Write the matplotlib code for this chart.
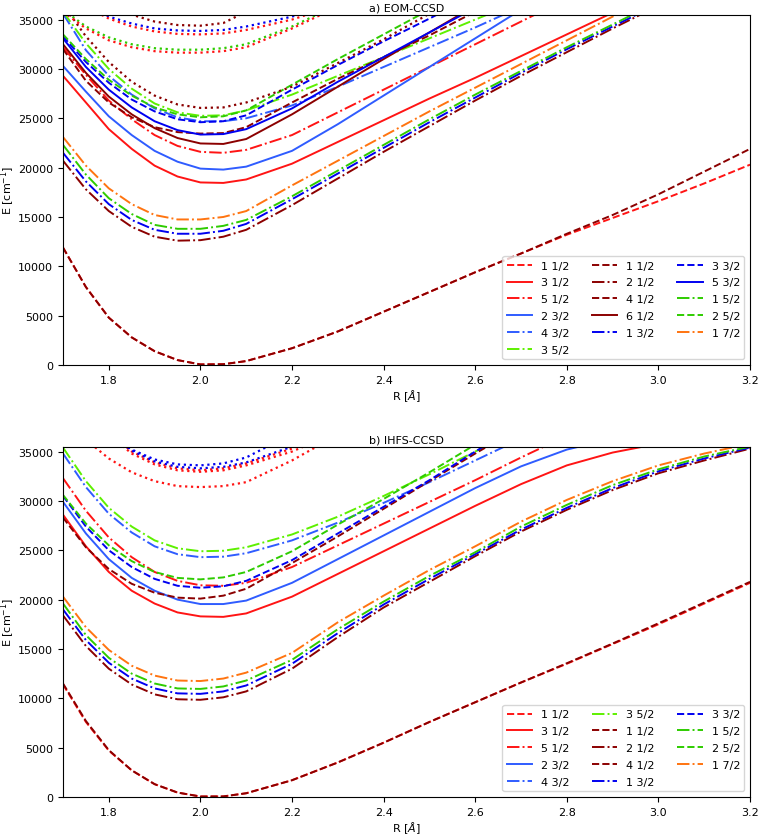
import numpy as np
import matplotlib
matplotlib.use("Agg")
import matplotlib.pyplot as plt

N = None
R = [1.70, 1.75, 1.80, 1.85, 1.90, 1.95, 2.00, 2.05, 2.10, 2.20,
     2.30, 2.40, 2.50, 2.60, 2.70, 2.80, 2.90, 3.00, 3.10, 3.20]

# ---------------- panel a) EOM-CCSD ----------------
a_11_red  = [11900, 7900, 4800, 2800, 1400, 500, 60, 80, 400, 1700, 3400, 5400, 7400, 9400, 11300, 13200, 14900, 16600, 18400, 20300]
a_31_red  = [29300, 26600, 23900, 21900, 20200, 19100, 18500, 18450, 18800, 20400, 22600, 24800, 27000, 29100, 31300, 33500, 35700, 37000, N, N]
a_51_red  = [32200, 29400, 26800, 24900, 23300, 22200, 21600, 21500, 21800, 23300, 25600, 27900, 30200, 32500, 34800, 37100, N, N, N, N]
a_23_rb   = [30300, 27700, 25200, 23300, 21700, 20600, 19900, 19800, 20100, 21700, 24400, 27300, 30200, 33100, 36000, N, N, N, N, N]
a_43_rb   = [35600, 31900, 29300, 27400, 26000, 25100, 24700, 24700, 25000, 26300, 28200, 30200, 32200, 34200, 36300, N, N, N, N, N]
a_35_lime = [35800, 32600, 30000, 28000, 26500, 25600, 25250, 25300, 25800, 27400, 29300, 31200, 33100, 35000, 36900, N, N, N, N, N]
a_11_dr   = [11900, 7900, 4800, 2800, 1400, 500, 60, 80, 400, 1700, 3400, 5400, 7400, 9400, 11300, 13300, 15200, 17300, 19600, 21900]
a_21_dr   = [20700, 17800, 15600, 14000, 13000, 12600, 12650, 13000, 13700, 16200, 18900, 21600, 24200, 26800, 29300, 31700, 34100, 36400, N, N]
a_41_dr   = [32000, 28800, 26600, 25100, 24100, 23600, 23450, 23500, 24100, 26600, 29000, 31200, 33400, 35800, N, N, N, N, N, N]
a_61_dr   = [32500, 29600, 27200, 25400, 24000, 23000, 22450, 22400, 22900, 25400, 28200, 31000, 33700, 36400, N, N, N, N, N, N]
a_13_b    = [21500, 18600, 16300, 14700, 13700, 13300, 13300, 13600, 14300, 16800, 19400, 22000, 24600, 27100, 29600, 32000, 34300, 36600, N, N]
a_33_b    = [33300, 30700, 28600, 26900, 25700, 24900, 24600, 24700, 25300, 27900, 30400, 32800, 35100, 37500, N, N, N, N, N, N]
a_53_b    = [33100, 30200, 27900, 26100, 24700, 23800, 23350, 23400, 23900, 26000, 28700, 31200, 33700, 36200, N, N, N, N, N, N]
a_15_g    = [22300, 19300, 16900, 15300, 14200, 13800, 13800, 14100, 14700, 17100, 19700, 22300, 24900, 27400, 29800, 32200, 34500, 36800, N, N]
a_25_g    = [33500, 31000, 28900, 27300, 26100, 25400, 25100, 25200, 25800, 28400, 31000, 33500, 36000, N, N, N, N, N, N, N]
a_17_o    = [23100, 20200, 17900, 16300, 15200, 14750, 14750, 15000, 15600, 18200, 20700, 23200, 25700, 28100, 30500, 32900, 35300, 37600, N, N]
# unlabelled dotted states (a)
a_dot_dr_low = [36500, 33300, 30700, 28700, 27300, 26400, 26050, 26100, 26600, 28200, 30600, 33000, 35600, N, N, N, N, N, N, N]
a_dot_g_low  = [36000, 34300, 33200, 32500, 32100, 31950, 31950, 32100, 32500, 34300, 36500, N, N, N, N, N, N, N, N, N]
a_dot_r_low  = [35800, 34100, 32900, 32200, 31800, 31650, 31650, 31800, 32200, 34100, 36300, N, N, N, N, N, N, N, N, N]
a_dot_b_up   = [N, 36500, 35300, 34600, 34100, 33900, 33850, 33950, 34300, 35300, 36800, N, N, N, N, N, N, N, N, N]
a_dot_r_up   = [N, 36300, 35100, 34300, 33800, 33550, 33500, 33600, 33950, 35000, 36500, N, N, N, N, N, N, N, N, N]
a_dot_dr_up  = [N, N, 36500, 35500, 34800, 34450, 34380, 34650, 35800, N, N, N, N, N, N, N, N, N, N, N]

# ---------------- panel b) IHFS-CCSD ----------------
b_11_red  = [11400, 7600, 4700, 2700, 1300, 450, 50, 60, 380, 1700, 3500, 5500, 7600, 9600, 11600, 13500, 15500, 17500, 19600, 21700]
b_31_red  = [28600, 25400, 22800, 20900, 19600, 18700, 18300, 18250, 18600, 20300, 22600, 24900, 27200, 29500, 31700, 33600, 34900, 35800, N, N]
b_51_red  = [32300, 29000, 26300, 24300, 22800, 21900, 21450, 21400, 21700, 23300, 25500, 27700, 29900, 32100, 34400, 36600, N, N, N, N]
b_23_rb   = [29900, 26700, 24100, 22200, 20900, 20000, 19550, 19550, 19900, 21700, 24100, 26500, 28900, 31300, 33500, 35200, 36300, N, N, N]
b_43_rb   = [34800, 31400, 28700, 26800, 25400, 24600, 24300, 24350, 24700, 26000, 27800, 29800, 31900, 34100, 36300, N, N, N, N, N]
b_35_lime = [35400, 32000, 29300, 27400, 26000, 25200, 24900, 24950, 25300, 26600, 28400, 30500, 32700, 35000, 37300, N, N, N, N, N]
b_11_dr   = [11500, 7700, 4750, 2700, 1300, 450, 50, 60, 380, 1700, 3500, 5500, 7600, 9600, 11600, 13550, 15550, 17600, 19700, 21800]
b_21_dr   = [18400, 15300, 13000, 11400, 10400, 9900, 9850, 10100, 10700, 13000, 16200, 19200, 21800, 24400, 26900, 29100, 31100, 32800, 34100, 35300]
b_41_dr   = [28300, 25300, 23100, 21600, 20700, 20200, 20100, 20400, 21100, 23700, 26400, 29200, 32000, 34800, 37500, N, N, N, N, N]
b_13_b    = [19000, 15900, 13600, 12000, 11000, 10500, 10450, 10700, 11300, 13500, 16600, 19500, 22100, 24600, 27100, 29300, 31300, 33000, 34300, 35400]
b_33_b    = [30500, 27400, 25000, 23300, 22100, 21400, 21200, 21350, 21900, 24000, 26700, 29400, 32100, 35000, 37800, N, N, N, N, N]
b_15_g    = [19600, 16400, 14100, 12500, 11500, 11000, 10950, 11200, 11800, 13900, 17000, 19800, 22400, 24800, 27400, 29600, 31600, 33200, 34500, 35500]
b_25_g    = [30600, 27700, 25500, 23900, 22800, 22200, 22050, 22250, 22800, 24900, 27600, 30200, 32900, 35700, N, N, N, N, N, N]
b_17_o    = [20300, 17200, 14900, 13300, 12300, 11800, 11750, 12000, 12600, 14600, 17700, 20400, 23000, 25400, 27900, 30100, 32000, 33600, 34800, 35800]
# unlabelled dotted states (b)
b_dot_r_low = [N, 36200, 34300, 32900, 32000, 31500, 31400, 31500, 31900, 34100, 36700, N, N, N, N, N, N, N, N, N]
b_dot_b_a   = [N, N, 36800, 35200, 34200, 33700, 33600, 33800, 34400, 36800, N, N, N, N, N, N, N, N, N, N]
b_dot_r_a   = [N, N, 37000, 35000, 33900, 33300, 33100, 33300, 33800, 35300, 37500, N, N, N, N, N, N, N, N, N]
b_dot_b_b   = [N, N, 36900, 35100, 34000, 33450, 33300, 33450, 33900, 35500, 37600, N, N, N, N, N, N, N, N, N]
b_dot_r_b   = [N, N, 36700, 34800, 33700, 33100, 32950, 33100, 33600, 35000, 37000, N, N, N, N, N, N, N, N, N]

RED, DRED, RB, BLUE, LIME, GREEN, ORANGE = '#ff1414', '#8b0000', '#2f5cff', '#0000f0', '#5ef000', '#2ecc00', '#ff7410'

series_a = [
    ('1 1/2', RED, '--', a_11_red), ('3 1/2', RED, '-', a_31_red), ('5 1/2', RED, '-.', a_51_red),
    ('2 3/2', RB, '-', a_23_rb), ('4 3/2', RB, '-.', a_43_rb), ('3 5/2', LIME, '-.', a_35_lime),
    ('1 1/2', DRED, '--', a_11_dr), ('2 1/2', DRED, '-.', a_21_dr), ('4 1/2', DRED, '--', a_41_dr),
    ('6 1/2', DRED, '-', a_61_dr), ('1 3/2', BLUE, '-.', a_13_b), ('3 3/2', BLUE, '--', a_33_b),
    ('5 3/2', BLUE, '-', a_53_b), ('1 5/2', GREEN, '-.', a_15_g), ('2 5/2', GREEN, '--', a_25_g),
    ('1 7/2', ORANGE, '-.', a_17_o),
]
dots_a = [(DRED, a_dot_dr_low), (GREEN, a_dot_g_low), (RED, a_dot_r_low),
          (BLUE, a_dot_b_up), (RED, a_dot_r_up), (DRED, a_dot_dr_up)]

series_b = [
    ('1 1/2', RED, '--', b_11_red), ('3 1/2', RED, '-', b_31_red), ('5 1/2', RED, '-.', b_51_red),
    ('2 3/2', RB, '-', b_23_rb), ('4 3/2', RB, '-.', b_43_rb), ('3 5/2', LIME, '-.', b_35_lime),
    ('1 1/2', DRED, '--', b_11_dr), ('2 1/2', DRED, '-.', b_21_dr), ('4 1/2', DRED, '--', b_41_dr),
    ('1 3/2', BLUE, '-.', b_13_b), ('3 3/2', BLUE, '--', b_33_b), ('1 5/2', GREEN, '-.', b_15_g),
    ('2 5/2', GREEN, '--', b_25_g), ('1 7/2', ORANGE, '-.', b_17_o),
]
dots_b = [(RED, b_dot_r_low), (BLUE, b_dot_b_a), (RED, b_dot_r_a), (BLUE, b_dot_b_b), (RED, b_dot_r_b)]

plt.rcParams['font.family'] = ['DejaVu Sans']
plt.rcParams['font.size'] = 8

fig = plt.figure(figsize=(7.61, 8.37), dpi=100)
ax_a = fig.add_axes([0.0828, 0.5627, 0.9028, 0.4186])
ax_b = fig.add_axes([0.0828, 0.0466, 0.9028, 0.4186])

def arr(v):
    return np.array([np.nan if x is None else x for x in v], dtype=float)

def draw(ax, series, dots, title):
    for lab, col, ls, vals in series:
        ax.plot(R, arr(vals), color=col, ls=ls, lw=1.4, label=lab)
    for col, vals in dots:
        ax.plot(R, arr(vals), color=col, ls=':', lw=1.6)
    ax.set_xlim(1.7, 3.2)
    ax.set_ylim(0, 35500)
    ax.set_xticks([1.8, 2.0, 2.2, 2.4, 2.6, 2.8, 3.0, 3.2])
    ax.set_yticks(np.arange(0, 35001, 5000))
    ax.set_xlabel(r'R [$\AA$]', fontsize=8, labelpad=2)
    ax.set_ylabel(r'E [cm$^{-1}$]', fontsize=8, labelpad=1)
    ax.set_title(title, fontsize=8, pad=3)
    ax.tick_params(labelsize=8)
    ax.legend(loc='lower right', ncol=3, fontsize=8, columnspacing=2.0,
              handlelength=2.3, labelspacing=0.62)

draw(ax_a, series_a, dots_a, 'a) EOM-CCSD')
draw(ax_b, series_b, dots_b, 'b) IHFS-CCSD')

fig.savefig('out.png', dpi=100)
